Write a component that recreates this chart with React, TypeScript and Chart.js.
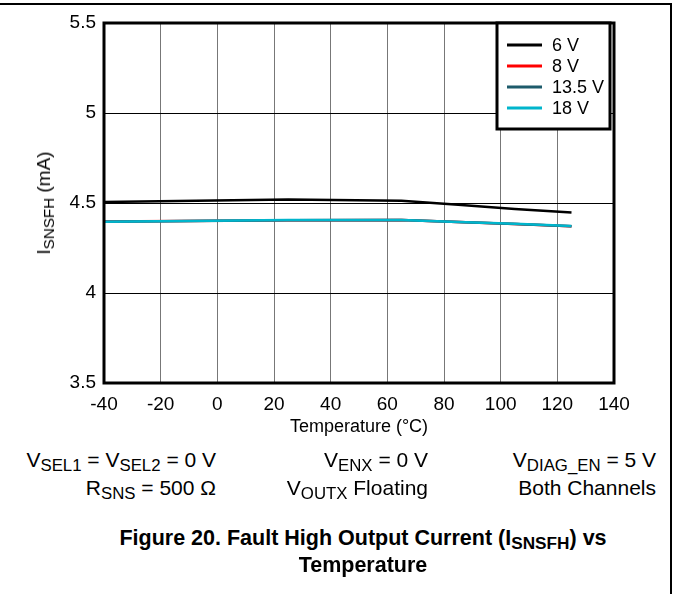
import React, { useEffect, useRef } from "react";
import { Chart, registerables } from "chart.js";

Chart.register(...registerables);

const temperatures = [-40, 25, 65, 85, 105, 125];
const series6V = [4.505, 4.52, 4.512, 4.49, 4.467, 4.447];
const series8V = [4.397, 4.404, 4.405, 4.394, 4.384, 4.371];
const series13_5V = [4.396, 4.404, 4.405, 4.394, 4.384, 4.371];
const series18V = [4.396, 4.405, 4.405, 4.395, 4.385, 4.372];
const seriesLabels = ["6 V", "8 V", "13.5 V", "18 V"];
const seriesColors = ["#000000", "#ff0000", "#1d5b6b", "#00b5cc"];
const xTicks = [-40, -20, 0, 20, 40, 60, 80, 100, 120, 140];
const yTicks = [3.5, 4, 4.5, 5, 5.5];

const FONT = "'Liberation Sans', Arial, sans-serif";

const framePlugin = {
  id: "frameAndLegend",
  afterDraw(chart: any) {
    const { ctx, chartArea } = chart;
    ctx.save();
    ctx.strokeStyle = "#000";
    ctx.lineWidth = 3;
    ctx.strokeRect(chartArea.left, chartArea.top, chartArea.right - chartArea.left, chartArea.bottom - chartArea.top);
    // legend
    const bx = 497, by = 23, bw = 113, bh = 106;
    ctx.fillStyle = "#fff";
    ctx.fillRect(bx, by, bw, bh);
    ctx.strokeRect(bx, by, bw, bh);
    ctx.font = "18px " + FONT;
    ctx.textBaseline = "middle";
    ctx.textAlign = "left";
    chart.data.datasets.forEach((ds: any, i: number) => {
      const y = 45 + i * 21;
      ctx.strokeStyle = ds.borderColor;
      ctx.lineWidth = 3;
      ctx.beginPath();
      ctx.moveTo(507, y);
      ctx.lineTo(542, y);
      ctx.stroke();
      ctx.fillStyle = "#000";
      ctx.fillText(ds.label, 552, y + 1);
    });
    ctx.restore();
  },
};

export default function App() {
  const canvasRef = useRef<HTMLCanvasElement | null>(null);

  useEffect(() => {
    if (!canvasRef.current) return;
    const seriesValues = [series6V, series8V, series13_5V, series18V];
    const chart = new Chart(canvasRef.current, {
      type: "line",
      data: {
        datasets: seriesValues.map((vals, i) => ({
          label: seriesLabels[i],
          data: temperatures.map((t, j) => ({ x: t, y: vals[j] })),
          borderColor: seriesColors[i],
          backgroundColor: seriesColors[i],
          borderWidth: 2.5,
          pointRadius: 0,
          tension: 0,
          fill: false,
          order: seriesValues.length - i,
        })),
      },
      options: {
        animation: false,
        responsive: false,
        devicePixelRatio: 1,
        layout: { padding: { top: 23, left: 0, right: 59, bottom: 0 } },
        plugins: { legend: { display: false }, tooltip: { enabled: false } },
        scales: {
          x: {
            type: "linear",
            min: -40,
            max: 140,
            afterBuildTicks: (scale: any) => {
              scale.ticks = xTicks.map((v) => ({ value: v }));
            },
            afterFit: (scale: any) => {
              scale.height = 37;
            },
            ticks: {
              color: "#000",
              font: { size: 19, family: FONT },
              padding: 10,
              maxRotation: 0,
              callback: (v: any) => String(v),
            },
            grid: { color: "#777", lineWidth: 1, drawTicks: false },
            border: { display: false },
          },
          y: {
            type: "linear",
            min: 3.5,
            max: 5.5,
            afterBuildTicks: (scale: any) => {
              scale.ticks = yTicks.map((v) => ({ value: v }));
            },
            afterFit: (scale: any) => {
              scale.width = 104;
            },
            ticks: {
              color: "#000",
              font: { size: 19, family: FONT },
              padding: 8,
              callback: (v: any) => String(v),
            },
            grid: { color: "#000", lineWidth: 1, drawTicks: false },
            border: { display: false },
          },
        },
      },
      plugins: [framePlugin],
    });
    return () => chart.destroy();
  }, []);

  const sub: React.CSSProperties = { fontSize: "0.8em", verticalAlign: "-0.25em", lineHeight: 0 };
  const txt: React.CSSProperties = {
    position: "absolute",
    fontFamily: FONT,
    fontSize: 21,
    lineHeight: "24px",
    color: "#000",
    whiteSpace: "nowrap",
  };

  return (
    <div style={{ position: "absolute", left: 0, top: 0, width: 673, height: 594, background: "#fff", overflow: "hidden" }}>
      <div style={{ position: "absolute", left: 0, top: 3, width: 672, height: 2, background: "#000" }} />
      <div style={{ position: "absolute", left: 670, top: 3, width: 2, height: 591, background: "#000" }} />
      <canvas ref={canvasRef} width={673} height={420} style={{ position: "absolute", left: 0, top: 0, width: 673, height: 420 }} />
      <div
        style={{
          ...txt,
          fontSize: 19,
          left: 44,
          top: 203,
          transform: "translate(-50%, -50%) rotate(-90deg)",
        }}
      >
        I<span style={sub}>SNSFH</span> (mA)
      </div>
      <div style={{ ...txt, fontSize: 18, left: 359, top: 414, transform: "translateX(-50%)" }}>
        Temperature (°C)
      </div>
      <div style={{ ...txt, right: 673 - 216, top: 448, textAlign: "right" }}>
        V<span style={sub}>SEL1</span> = V<span style={sub}>SEL2</span> = 0 V
      </div>
      <div style={{ ...txt, right: 673 - 216, top: 476, textAlign: "right" }}>
        R<span style={sub}>SNS</span> = 500 Ω
      </div>
      <div style={{ ...txt, right: 673 - 428, top: 448, textAlign: "right" }}>
        V<span style={sub}>ENX</span> = 0 V
      </div>
      <div style={{ ...txt, right: 673 - 428, top: 476, textAlign: "right" }}>
        V<span style={sub}>OUTX</span> Floating
      </div>
      <div style={{ ...txt, right: 673 - 656, top: 448, textAlign: "right" }}>
        V<span style={sub}>DIAG_EN</span> = 5 V
      </div>
      <div style={{ ...txt, right: 673 - 656, top: 476, textAlign: "right" }}>
        Both Channels
      </div>
      <div style={{ ...txt, fontSize: 21.5, fontWeight: "bold", left: 363, top: 526, transform: "translateX(-50%)" }}>
        Figure 20. Fault High Output Current (I<span style={sub}>SNSFH</span>) vs
      </div>
      <div style={{ ...txt, fontSize: 21.5, fontWeight: "bold", left: 363, top: 553, transform: "translateX(-50%)" }}>
        Temperature
      </div>
    </div>
  );
}
